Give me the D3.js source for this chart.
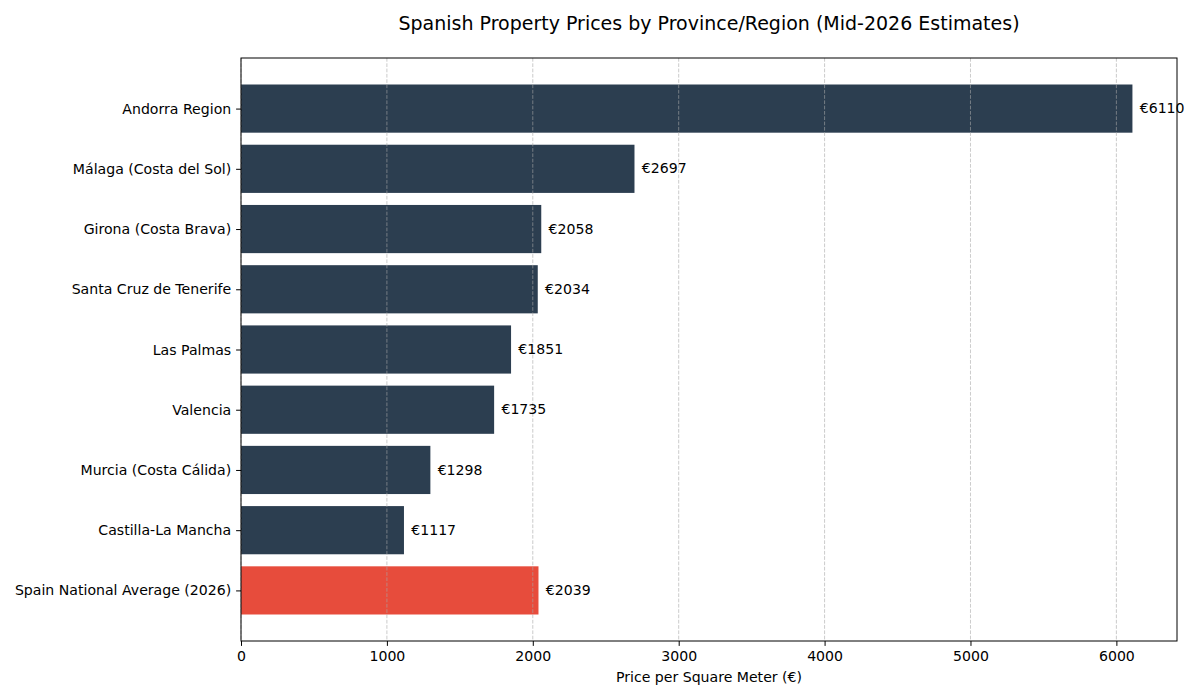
<!DOCTYPE html>
<html>
<head>
<meta charset="utf-8">
<script src="https://cdn.jsdelivr.net/npm/d3@7"></script>
<style>
body { margin: 0; background: #fff; }
text { font-family: "DejaVu Sans", sans-serif; fill: #000; }
</style>
</head>
<body>
<svg id="chart" width="1200" height="700"></svg>
<script>
var regions = [
	'Andorra Region',
	'Málaga (Costa del Sol)',
	'Girona (Costa Brava)',
	'Santa Cruz de Tenerife',
	'Las Palmas',
	'Valencia',
	'Murcia (Costa Cálida)',
	'Castilla-La Mancha',
	'Spain National Average (2026)'
];
var prices = [6110, 2697, 2058, 2034, 1851, 1735, 1298, 1117, 2039];
var highlight = 'Spain National Average (2026)';
var xTicks = [0, 1000, 2000, 3000, 4000, 5000, 6000];

var margin = {top: 58, right: 23, bottom: 59, left: 241};
var width = 1200 - margin.left - margin.right;
var height = 700 - margin.top - margin.bottom;
var fontSize = '14.1px';

var svg = d3.select('#chart');
var g = svg.append('g').attr('transform', 'translate(' + margin.left + ',' + margin.top + ')');

var x = d3.scaleLinear()
	.domain([0, d3.max(prices) * 1.05])
	.range([0, width]);

// matplotlib style: categories at 0..n-1, bar height 0.8, 5% margin
var n = regions.length;
var lo = -0.4, hi = n - 1 + 0.4;
var pad = (hi - lo) * 0.05;
var y = d3.scaleLinear()
	.domain([lo - pad, hi + pad])
	.range([0, height]);

var data = regions.map(function (r, i) {
	return {region: r, price: prices[i], idx: i};
});

// bars
g.selectAll('rect.bar')
	.data(data)
	.enter()
	.append('rect')
	.attr('class', 'bar')
	.attr('x', x(0))
	.attr('y', function (d) { return y(d.idx - 0.4); })
	.attr('width', function (d) { return x(d.price) - x(0); })
	.attr('height', function (d) { return y(d.idx + 0.4) - y(d.idx - 0.4); })
	.attr('fill', function (d) { return d.region === highlight ? '#e74c3c' : '#2c3e50'; });

// grid (drawn over bars)
g.selectAll('line.grid')
	.data(xTicks)
	.enter()
	.append('line')
	.attr('class', 'grid')
	.attr('x1', function (d) { return x(d); })
	.attr('x2', function (d) { return x(d); })
	.attr('y1', 0)
	.attr('y2', height)
	.attr('stroke', '#a8a8a8')
	.attr('stroke-opacity', 0.75)
	.attr('stroke-width', 0.8)
	.attr('stroke-dasharray', '3.7,1.6');

// value labels
g.selectAll('text.value')
	.data(data)
	.enter()
	.append('text')
	.attr('class', 'value')
	.attr('x', function (d) { return x(d.price + 50); })
	.attr('y', function (d) { return y(d.idx); })
	.attr('dy', '0.33em')
	.style('font-size', fontSize)
	.text(function (d) { return '€' + d.price; });

// x axis
var xAxis = g.append('g')
	.attr('transform', 'translate(0,' + height + ')')
	.call(d3.axisBottom(x).tickValues(xTicks).tickSize(4.9).tickPadding(4.9).tickFormat(d3.format('d')));
xAxis.select('.domain').remove();
xAxis.selectAll('text').style('font-size', fontSize).attr('fill', '#000');
xAxis.selectAll('line').attr('stroke', '#000').attr('stroke-width', 1);

// y axis
var yAxis = g.append('g')
	.call(d3.axisLeft(y).tickValues(d3.range(n)).tickSize(4.9).tickPadding(4.9)
		.tickFormat(function (i) { return regions[i]; }));
yAxis.select('.domain').remove();
yAxis.selectAll('text').style('font-size', fontSize).attr('fill', '#000');
yAxis.selectAll('line').attr('stroke', '#000').attr('stroke-width', 1);

// frame
g.append('rect')
	.attr('x', 0)
	.attr('y', 0)
	.attr('width', width)
	.attr('height', height)
	.attr('fill', 'none')
	.attr('stroke', '#000')
	.attr('stroke-width', 1);

// title + axis label
svg.append('text')
	.attr('x', margin.left + width / 2)
	.attr('y', 30)
	.attr('text-anchor', 'middle')
	.style('font-size', '19px')
	.text('Spanish Property Prices by Province/Region (Mid-2026 Estimates)');

svg.append('text')
	.attr('x', margin.left + width / 2)
	.attr('y', 682)
	.attr('text-anchor', 'middle')
	.style('font-size', fontSize)
	.text('Price per Square Meter (€)');
</script>
</body>
</html>
